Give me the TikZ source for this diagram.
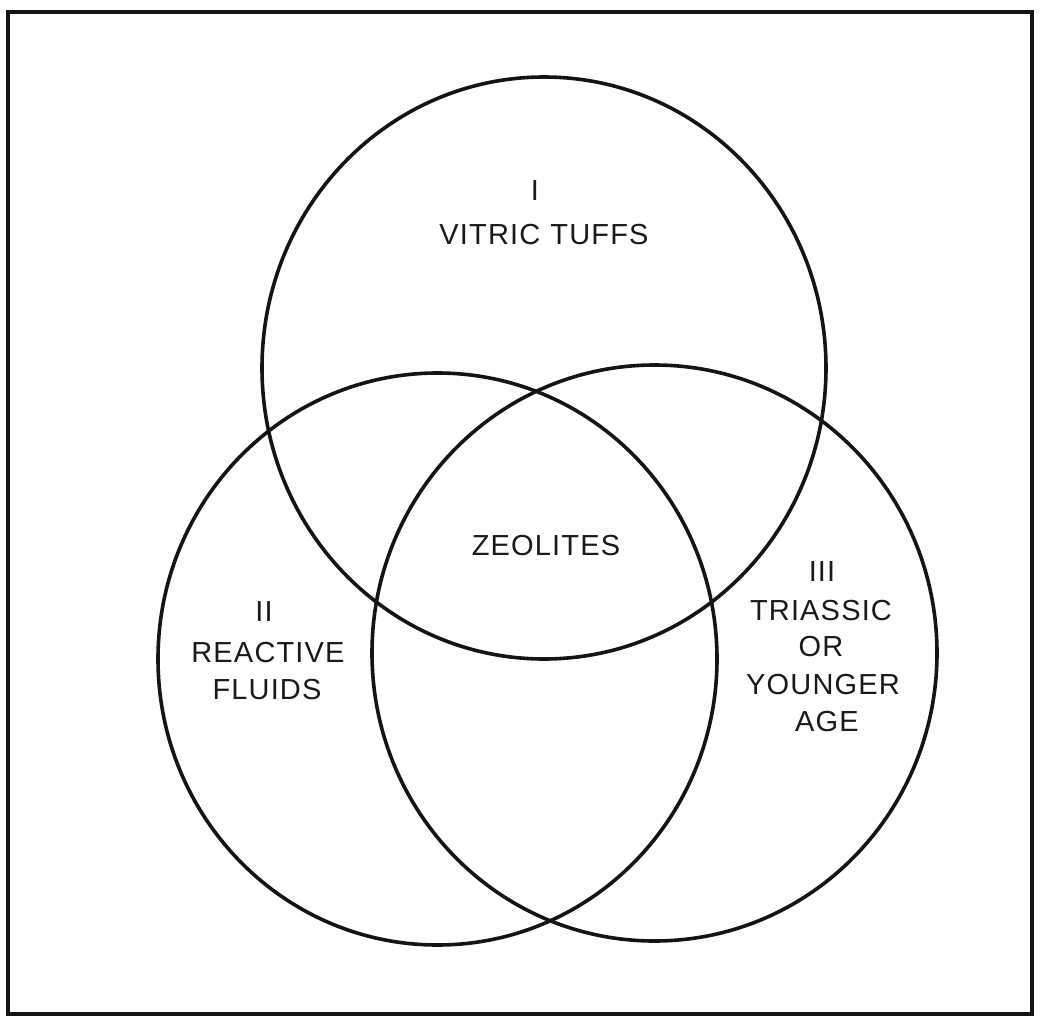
\documentclass[tikz,border=0pt]{standalone}
\usepackage{fontspec}
\setmainfont{Liberation Sans}[LetterSpace=4]
\usetikzlibrary{shapes.geometric}
\tikzset{
  venn/.style={draw=black!92, line width=3.6pt, ellipse, inner sep=0pt, outer sep=0pt},
  lbl/.style={inner sep=0pt, font=\fontsize{29}{36}\selectfont, text=black!90},
  frame/.style={draw=black!92, line width=4.2pt}
}
\begin{document}
\begin{tikzpicture}[x=1pt,y=-1pt]
\useasboundingbox (0,0) rectangle (1042,1017);
% frame
\coordinate (tl) at (8,12);
\coordinate (br) at (1032,1014);
\draw[frame] (tl) rectangle (br);
% circles
\node[venn, minimum width=564pt, minimum height=582pt] (c1) at (544,368) {};
\node[venn, minimum width=559pt, minimum height=572pt] (c2) at (437.5,659) {};
\node[venn, minimum width=565pt, minimum height=576pt] (c3) at (654.5,653) {};
% labels
\node[lbl] (l1a) at (535,191) {I};
\node[lbl] (l1b) at (544,235) {VITRIC\hspace{0.35em}TUFFS};
\node[lbl] (z) at (546,546) {ZEOLITES};
\node[lbl] (l2a) at (264,612) {II};
\node[lbl] (l2b) at (268,653) {REACTIVE};
\node[lbl] (l2c) at (267,690) {FLUIDS};
\node[lbl] (l3a) at (822,572) {III};
\node[lbl] (l3b) at (821,611) {TRIASSIC};
\node[lbl] (l3c) at (821,647) {OR};
\node[lbl] (l3d) at (823,685) {YOUNGER};
\node[lbl] (l3e) at (827,722) {AGE};
\end{tikzpicture}
\end{document}
